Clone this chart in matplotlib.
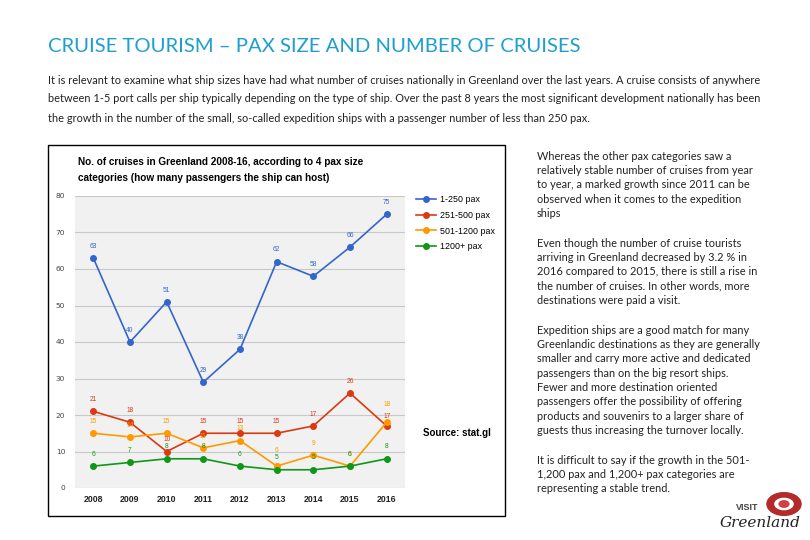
import matplotlib
matplotlib.use("Agg")
from matplotlib import pyplot as plt
from matplotlib.patches import Rectangle, Wedge, Circle

years = ["2008", "2009", "2010", "2011", "2012", "2013", "2014", "2015", "2016"]
pax_1_250 = [63, 40, 51, 29, 38, 62, 58, 66, 75]
pax_251_500 = [21, 18, 10, 15, 15, 15, 17, 26, 17]
pax_501_1200 = [15, 14, 15, 11, 13, 6, 9, 6, 18]
pax_1200_plus = [6, 7, 8, 8, 6, 5, 5, 6, 8]
series_names = ["1-250 pax", "251-500 pax", "501-1200 pax", "1200+ pax"]
colors = ["#3366cc", "#dc3912", "#ff9900", "#109618"]

title = "CRUISE TOURISM \u2013 PAX SIZE AND NUMBER OF CRUISES"
intro = [
    "It is relevant to examine what ship sizes have had what number of cruises nationally in Greenland over the last years. A cruise consists of anywhere",
    "between 1-5 port calls per ship typically depending on the type of ship. Over the past 8 years the most significant development nationally has been",
    "the growth in the number of the small, so-called expedition ships with a passenger number of less than 250 pax.",
]
side_text = [
    ["Whereas the other pax categories saw a",
     "relatively stable number of cruises from year",
     "to year, a marked growth since 2011 can be",
     "observed when it comes to the expedition",
     "ships"],
    ["Even though the number of cruise tourists",
     "arriving in Greenland decreased by 3.2 % in",
     "2016 compared to 2015, there is still a rise in",
     "the number of cruises. In other words, more",
     "destinations were paid a visit."],
    ["Expedition ships are a good match for many",
     "Greenlandic destinations as they are generally",
     "smaller and carry more active and dedicated",
     "passengers than on the big resort ships.",
     "Fewer and more destination oriented",
     "passengers offer the possibility of offering",
     "products and souvenirs to a larger share of",
     "guests thus increasing the turnover locally."],
    ["It is difficult to say if the growth in the 501-",
     "1,200 pax and 1,200+ pax categories are",
     "representing a stable trend."],
]

W, H = 810, 540


def fx(px):
    return px / W


def fy(py):
    return 1 - py / H


fig = plt.figure(figsize=(8.1, 5.4), dpi=100)
fig.patch.set_facecolor("white")

fig.text(fx(48), fy(46), title, color="#1f9fcf", fontsize=14.6,
         family="Lato", va="center", ha="left")
for i, line in enumerate(intro):
    fig.text(fx(48), fy(80 + i * 19), line, fontsize=7.9, family="Lato",
             va="center", ha="left", color="#222222")

y0 = 156
for para in side_text:
    for line in para:
        fig.text(fx(537), fy(y0), line, fontsize=7.95, family="Lato",
                 va="center", ha="left", color="#222222")
        y0 += 14.4
    y0 += 15

# chart frame
fig.patches.append(Rectangle((fx(48), fy(516)), 457 / W, 371 / H,
                             transform=fig.transFigure, fill=False,
                             edgecolor="black", linewidth=1.0))
fig.text(fx(78), fy(162), "No. of cruises in Greenland 2008-16, according to 4 pax size",
         fontsize=7.2, fontweight="bold", family="Liberation Sans", va="center")
fig.text(fx(78), fy(178), "categories (how many passengers the ship can host)",
         fontsize=7.2, fontweight="bold", family="Liberation Sans", va="center")

ax = fig.add_axes([fx(75), fy(488), 330 / W, 292 / H])
ax.set_facecolor("#f1f1f1")
x = list(range(len(years)))
all_series = [pax_1_250, pax_251_500, pax_501_1200, pax_1200_plus]
# a few labels nudged so close values stay readable
nudge = {(2, 8): 4, (1, 8): -2, (2, 5): 3}
for si, (vals, name, c) in enumerate(zip(all_series, series_names, colors)):
    ax.plot(x, vals, color=c, linewidth=1.2, marker="o", markersize=4, label=name)
    for xi, v in zip(x, vals):
        dy = 6 + nudge.get((si, xi), 0)
        ax.annotate(str(v), (xi, v), xytext=(0, dy), textcoords="offset points",
                    ha="center", va="bottom", fontsize=4.8, color=c,
                    family="Liberation Sans")

ax.set_xlim(-0.5, 8.5)
ax.set_ylim(0, 80)
ax.set_yticks(range(0, 81, 10))
ax.set_xticks(x)
ax.set_xticklabels(years, fontweight="bold", fontsize=6.3, family="Liberation Sans",
                   color="#222222")
ax.tick_params(axis="y", labelsize=5.3, colors="#444444", length=0, pad=7)
ax.tick_params(axis="x", length=0, pad=5)
ax.grid(axis="y", color="#c8c8c8", linewidth=0.8)
ax.set_axisbelow(True)
for s in ax.spines.values():
    s.set_visible(False)

leg = ax.legend(loc="upper left", bbox_to_anchor=(1.01, 1.03), frameon=False,
                prop={"family": "Liberation Sans", "size": 6.4},
                handlelength=2.2, labelspacing=0.75, handletextpad=0.5)

fig.text(fx(423), fy(433), "Source: stat.gl", fontsize=7, fontweight="bold",
         family="Liberation Sans", va="center")

# logo
fig.patches.append(Wedge((fx(784), fy(504)), 0.021, 0, 360, width=0.008,
                         transform=fig.transFigure, color="#b22a2a"))
fig.patches.append(Circle((fx(784), fy(504)), 0.006, transform=fig.transFigure,
                          color="#d04040"))
fig.text(fx(736), fy(507), "VISIT", fontsize=6.5, fontweight="bold",
         family="Liberation Sans", color="#444444", va="center")
fig.text(fx(720), fy(523), "Greenland", fontsize=11, style="italic",
         family="DejaVu Serif", color="#222222", va="center")

fig.savefig("out.png", dpi=100)
